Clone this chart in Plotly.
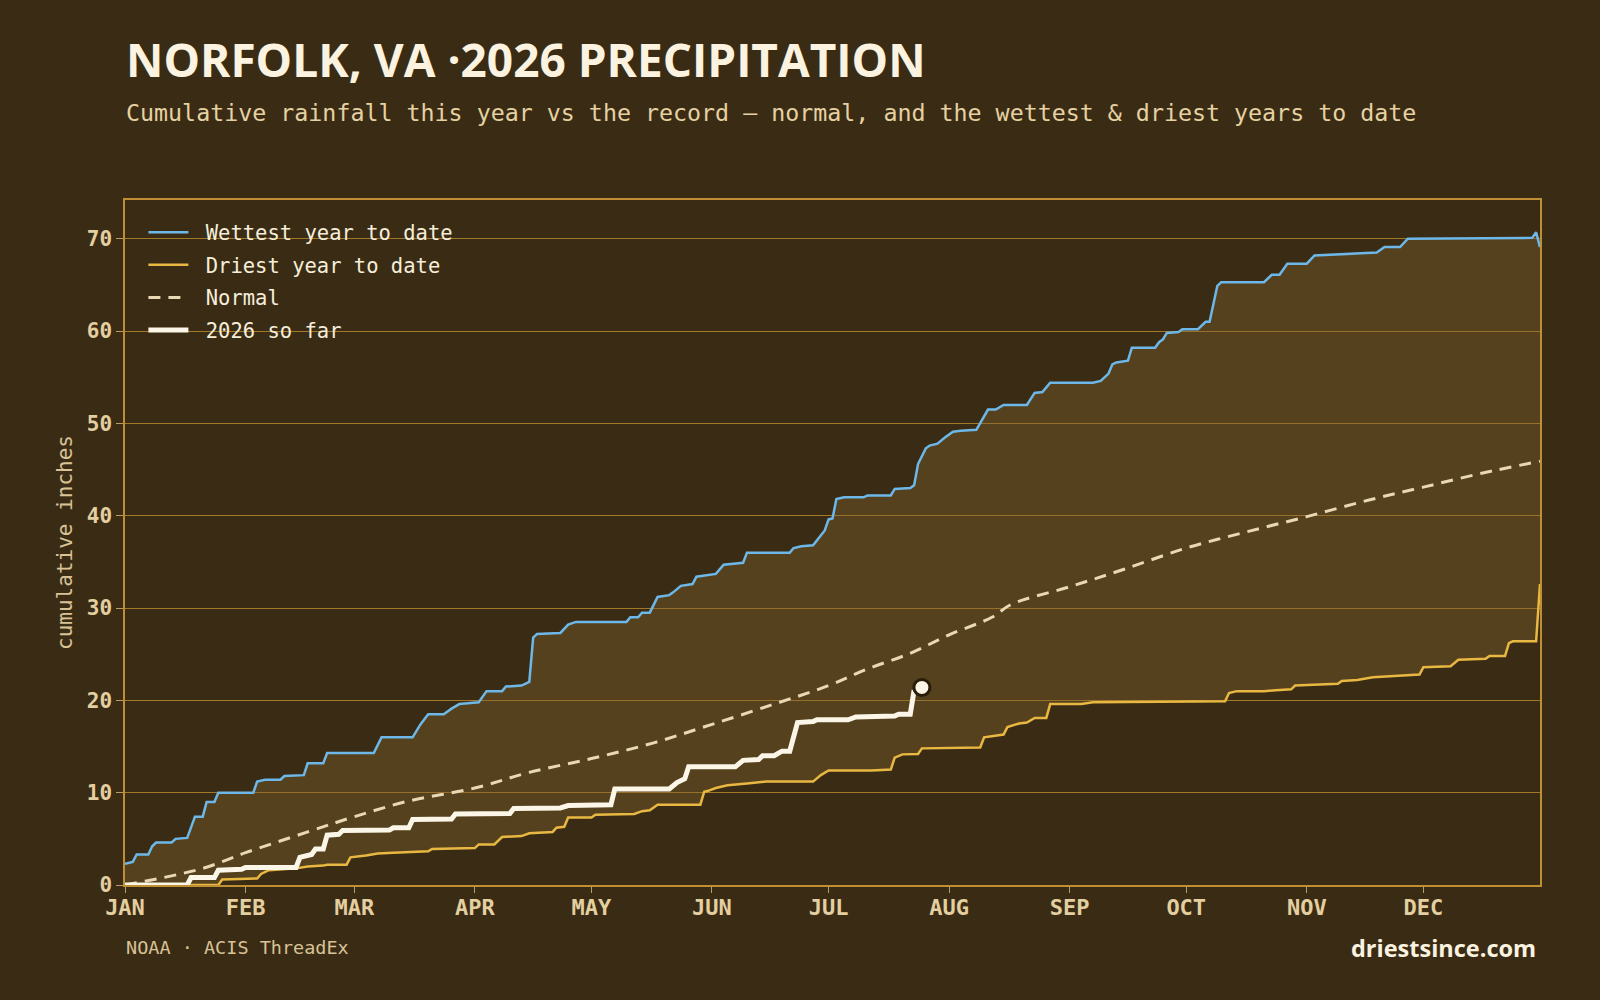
import pandas as pd
import plotly.graph_objects as go

# ---------------- data (day-of-year offsets from Jan 1, cumulative inches) ----------------
wet_days = [0, 2, 3, 6, 7, 8, 12, 13, 16, 18, 20, 21, 23, 24, 33, 34, 36, 40, 41, 46, 47, 51, 52, 64, 66,
            74, 76, 78, 82, 84, 86, 91, 93, 97, 98, 102, 104, 105, 106, 112, 114, 116, 129, 130, 132, 133,
            135, 137, 140, 141, 143, 146, 147, 152, 154, 159, 160, 171, 172, 174, 177, 180, 181, 182, 183,
            185, 190, 191, 197, 198, 202, 203, 204, 206, 207, 209, 211, 212, 213, 215, 219, 222, 224, 226,
            232, 234, 236, 238, 249, 251, 253, 254, 255, 258, 259, 265, 266, 267, 268, 271, 272, 276, 278,
            279, 281, 282, 293, 295, 297, 299, 304, 306, 312, 320, 322, 324, 328, 330, 362, 363, 364]
wet_vals = [2.3, 2.5, 3.3, 3.3, 4.2, 4.6, 4.6, 5.0, 5.1, 7.4, 7.4, 9.0, 9.0, 10.0, 10.0, 11.2, 11.4, 11.4,
            11.8, 11.9, 13.2, 13.2, 14.3, 14.3, 16.0, 16.0, 17.4, 18.5, 18.5, 19.1, 19.6, 19.8, 21.0, 21.0,
            21.5, 21.6, 22.0, 26.8, 27.2, 27.3, 28.2, 28.5, 28.5, 29.0, 29.0, 29.5, 29.5, 31.2, 31.4, 31.7,
            32.4, 32.6, 33.4, 33.7, 34.7, 34.9, 36.0, 36.0, 36.5, 36.7, 36.8, 38.4, 39.6, 39.7, 41.8, 42.0,
            42.0, 42.2, 42.2, 42.9, 43.0, 43.3, 45.6, 47.3, 47.6, 47.8, 48.5, 48.8, 49.1, 49.2, 49.3, 51.5,
            51.5, 52.0, 52.0, 53.3, 53.4, 54.4, 54.4, 54.6, 55.4, 56.4, 56.6, 56.8, 58.2, 58.2, 58.8, 59.1,
            59.8, 59.9, 60.2, 60.2, 61.0, 61.0, 64.9, 65.3, 65.3, 66.1, 66.1, 67.3, 67.3, 68.2, 68.3, 68.4,
            68.5, 69.1, 69.1, 70.0, 70.1, 70.7, 69.1]

dry_days = [0, 24, 25, 34, 35, 37, 44, 47, 51, 52, 57, 58, 62, 65, 69, 78, 79, 90, 91, 95, 97, 102, 104,
            110, 111, 113, 114, 120, 121, 131, 133, 135, 137, 148, 149, 150, 152, 155, 160, 165, 177, 179,
            181, 192, 197, 198, 200, 204, 205, 220, 221, 226, 227, 230, 232, 234, 237, 238, 246, 249, 283,
            284, 286, 293, 296, 300, 301, 307, 312, 313, 317, 321, 328, 333, 334, 341, 343, 350, 351, 355,
            356, 357, 363, 364]
dry_vals = [0.0, 0.0, 0.6, 0.7, 1.2, 1.6, 1.8, 2.0, 2.1, 2.2, 2.2, 3.0, 3.2, 3.4, 3.5, 3.65, 3.9, 4.0, 4.4,
            4.4, 5.2, 5.3, 5.6, 5.75, 6.2, 6.3, 7.3, 7.3, 7.6, 7.7, 8.0, 8.1, 8.7, 8.7, 10.1, 10.2, 10.5,
            10.8, 11.0, 11.2, 11.2, 11.9, 12.4, 12.4, 12.5, 13.8, 14.15, 14.2, 14.8, 14.9, 16.0, 16.3, 17.1,
            17.5, 17.6, 18.1, 18.1, 19.6, 19.6, 19.8, 19.9, 20.8, 21.0, 21.0, 21.1, 21.2, 21.6, 21.7, 21.8,
            22.1, 22.2, 22.5, 22.7, 22.8, 23.6, 23.7, 24.4, 24.5, 24.8, 24.8, 26.2, 26.4, 26.4, 32.6]

normal_days = [0, 20, 31, 47, 59, 73, 90, 104, 120, 136, 151, 167, 181, 191, 202, 212, 223, 228, 243, 257,
               273, 288, 304, 320, 334, 349, 364]
normal_vals = [0.0, 1.8, 3.5, 5.75, 7.4, 9.1, 10.5, 12.2, 13.7, 15.4, 17.4, 19.6, 21.6, 23.4, 25.1, 27.1,
               29.0, 30.4, 32.3, 34.2, 36.5, 38.2, 39.9, 41.7, 43.1, 44.6, 45.9]

cur_days = [0, 16, 17, 23, 24, 30, 31, 44, 45, 47, 48, 49, 51, 52, 55, 56, 68, 69, 73, 74, 84, 85, 99, 100,
            112, 114, 125, 126, 140, 142, 144, 145, 157, 159, 163, 164, 167, 169, 171, 173, 177, 178, 186,
            188, 198, 199, 202, 203]
cur_vals = [0.0, 0.0, 0.8, 0.8, 1.6, 1.7, 1.9, 1.9, 3.0, 3.2, 3.3, 3.9, 3.9, 5.4, 5.5, 5.9, 5.95, 6.2, 6.2,
            7.1, 7.15, 7.7, 7.75, 8.3, 8.35, 8.6, 8.7, 10.4, 10.4, 11.1, 11.5, 12.8, 12.8, 13.5, 13.6, 14.0,
            14.0, 14.5, 14.5, 17.6, 17.7, 17.9, 17.9, 18.2, 18.3, 18.5, 18.5, 21.1]

today_day = [205]
today_val = [21.4]

month_ticks = ["2026-01-01", "2026-02-01", "2026-03-01", "2026-04-01", "2026-05-01", "2026-06-01",
               "2026-07-01", "2026-08-01", "2026-09-01", "2026-10-01", "2026-11-01", "2026-12-01"]
month_labels = ["JAN", "FEB", "MAR", "APR", "MAY", "JUN", "JUL", "AUG", "SEP", "OCT", "NOV", "DEC"]
y_ticks = [0, 10, 20, 30, 40, 50, 60, 70]

BASE = pd.Timestamp("2026-01-01")


def to_dates(days):
    return [BASE + pd.Timedelta(days=d) for d in days]


# ---------------- style ----------------
BG = "#3a2c14"
FILL = "rgba(132,102,46,0.36)"
GRID = "#a27829"
FRAME = "#c08f34"
TICKC = "#b89c66"
LABEL = "#e4cfa0"
MONO = "DejaVu Sans Mono"
NB = "\u00a0"

fig = go.Figure()

# band between driest and wettest (no legend entries)
fig.add_trace(go.Scatter(x=to_dates(dry_days), y=dry_vals, mode="lines", line=dict(width=0),
                         showlegend=False, hoverinfo="skip"))
fig.add_trace(go.Scatter(x=to_dates(wet_days), y=wet_vals, mode="lines", line=dict(width=0),
                         fill="tonexty", fillcolor=FILL, showlegend=False, hoverinfo="skip"))

fig.add_trace(go.Scatter(x=to_dates(dry_days), y=dry_vals, mode="lines", name=NB + "Driest year to date",
                         line=dict(color="#e9b842", width=2.5), legendrank=2, legendgroup="b"))
fig.add_trace(go.Scatter(x=to_dates(wet_days), y=wet_vals, mode="lines", name=NB + "Wettest year to date",
                         line=dict(color="#6db8e8", width=2.5), legendrank=1, legendgroup="a"))
fig.add_trace(go.Scatter(x=to_dates(normal_days), y=normal_vals, mode="lines", name=NB + "Normal",
                         line=dict(color="#e8d8b4", width=3, dash="12px,8px"), line_shape="spline",
                         legendrank=3, legendgroup="c"))
fig.add_trace(go.Scatter(x=to_dates(cur_days), y=cur_vals, mode="lines", name=NB + "2026 so far",
                         line=dict(color="#fcf6e8", width=5), legendrank=4, legendgroup="d"))
fig.add_trace(go.Scatter(x=to_dates(today_day), y=today_val, mode="markers", showlegend=False,
                         marker=dict(size=16, color="#fcf6e8", line=dict(color="#2a1e0a", width=3))))

fig.update_layout(
    width=1600, height=1000,
    paper_bgcolor=BG, plot_bgcolor=BG,
    margin=dict(l=125, r=60, t=200, b=115),
    showlegend=True,
    legend=dict(x=0.013, y=0.982, xanchor="left", yanchor="top", bgcolor="rgba(0,0,0,0)",
                font=dict(family=MONO, size=20.5, color="#f6eedb"), traceorder="grouped",
                tracegroupgap=3, itemwidth=40),
    xaxis=dict(type="date", range=["2026-01-01", "2026-12-31"], tickvals=month_ticks, ticktext=month_labels,
               showgrid=False, zeroline=False, showline=True, linecolor=FRAME, linewidth=1.5, mirror=True,
               ticks="outside", ticklen=6, tickcolor=TICKC, tickwidth=1, ticklabelstandoff=-4,
               tickfont=dict(family=MONO, size=22, color=LABEL, weight="bold")),
    yaxis=dict(range=[0, 74.2], tickvals=y_ticks, showgrid=True, gridcolor=GRID, gridwidth=1.2,
               zeroline=False, showline=True, linecolor=FRAME, linewidth=1.5, mirror=True,
               ticks="outside", ticklen=7, tickcolor=TICKC, tickwidth=1,
               tickfont=dict(family=MONO, size=21, color=LABEL, weight="bold"),
               title=dict(text="cumulative inches", font=dict(family=MONO, size=21, color="#d8c296"),
                          standoff=8)),
)

H = 685.0
def py(Y):
    return (885.0 - Y) / H

def px(X):
    return (X - 125.0) / 1415.0

fig.add_annotation(xref="paper", yref="paper", x=px(124), y=py(59), xanchor="left", yanchor="middle",
                   text="<b>NORFOLK, VA ·2026 PRECIPITATION</b>", showarrow=False,
                   font=dict(family="Open Sans", size=46, color="#fbf3e0"))
fig.add_annotation(xref="paper", yref="paper", x=px(124), y=py(113), xanchor="left", yanchor="middle",
                   text="Cumulative rainfall this year vs the record — normal, and the wettest & driest years to date",
                   showarrow=False, font=dict(family=MONO, size=23.3, color="#e6d1a2"))
fig.add_annotation(xref="paper", yref="paper", x=px(124), y=py(948), xanchor="left", yanchor="middle",
                   text="NOAA · ACIS ThreadEx", showarrow=False,
                   font=dict(family=MONO, size=18.5, color="#d8c296"))
fig.add_annotation(xref="paper", yref="paper", x=px(1538), y=py(948), xanchor="right", yanchor="middle",
                   text="<b>driestsince.com</b>", showarrow=False,
                   font=dict(family="Open Sans", size=23.5, color="#fbf3e0"))

fig.write_html("out.html")
